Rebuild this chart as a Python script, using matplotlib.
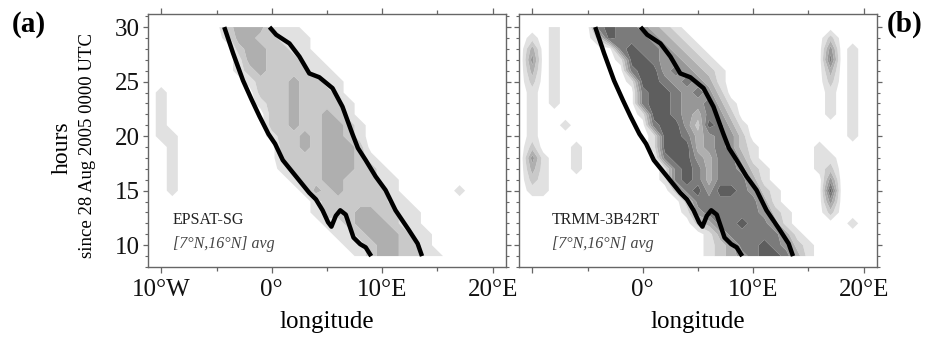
import numpy as np
import matplotlib
matplotlib.use("Agg")
import matplotlib.pyplot as plt
from matplotlib.ticker import FixedLocator, MultipleLocator

plt.rcParams['font.family'] = ['Liberation Serif', 'DejaVu Serif']

# ---------------- data ----------------
LON = np.arange(-11, 22)      # grid longitudes (deg E)
HOURS = np.arange(9, 31)      # hours since 28 Aug 2005 0000 UTC

# shading level per grid cell: hour -> (first longitude, level digits)
EPSAT_BAND = {
    30: (-4, "2333111"),
    29: (-4, "13322111"),
    28: (-3, "2332211"),
    27: (-3, "13322211"),
    26: (-3, "123222211"),
    25: (-2, "122232211"),
    24: (-1, "22232221"),
    23: (-1, "122322221"),
    22: (0, "22322321"),
    21: (0, "223223321"),
    20: (0, "122323321"),
    19: (1, "22323332"),
    18: (1, "222233321"),
    17: (1, "1222333221"),
    16: (2, "1223322211"),
    15: (3, "132322221"),
    14: (4, "122222211"),
    13: (4, "1222332211"),
    12: (5, "112333211"),
    11: (6, "112333211"),
    10: (7, "11233221"),
    9: (8, "12332211"),
}
EPSAT_SPOTS = [(-10, 20, 1), (-10, 21, 1), (-10, 22, 1), (-10, 23, 1), (-10, 24, 1),
               (-9, 15, 1), (-9, 16, 1), (-9, 17, 1), (-9, 18, 1), (-9, 19, 1),
               (-9, 20, 1), (17, 15, 1)]

TRMM_BAND = {
    30: (-4, "56554321"),
    29: (-4, "265554321"),
    28: (-2, "56554321"),
    27: (-2, "166544321"),
    26: (-1, "566454321"),
    25: (-1, "166545431"),
    24: (0, "56654542"),
    23: (0, "566544531"),
    22: (0, "166543542"),
    21: (1, "566426531"),
    20: (1, "166534542"),
    19: (1, "1666345421"),
    18: (2, "566435531"),
    17: (2, "1565355421"),
    16: (2, "1565355531"),
    15: (3, "2564665421"),
    14: (4, "255555531"),
    13: (4, "1455555421"),
    12: (5, "235565531"),
    11: (6, "135555531"),
    10: (6, "1235565421"),
    9: (6, "1234566531"),
}
TRMM_SPOTS = [(-10, 15, 1), (-10, 16, 2), (-10, 17, 3), (-10, 18, 4), (-10, 19, 2),
              (-10, 20, 1), (-10, 21, 1), (-10, 22, 1), (-10, 23, 1), (-10, 24, 1),
              (-10, 25, 2), (-10, 26, 3), (-10, 27, 4), (-10, 28, 3), (-10, 29, 1),
              (-9, 15, 1), (-9, 16, 1), (-9, 17, 1), (-9, 18, 1),
              (-8, 23, 1), (-8, 24, 1), (-8, 25, 1), (-8, 26, 1), (-8, 27, 1),
              (-8, 28, 1), (-8, 29, 1), (-8, 30, 1),
              (-7, 21, 1), (-6, 17, 1), (-6, 18, 1), (-6, 19, 1),
              (17, 22, 1), (17, 23, 1), (17, 24, 1), (17, 25, 2), (17, 26, 3),
              (17, 27, 5), (17, 28, 4), (17, 29, 2),
              (19, 20, 1), (19, 21, 1), (19, 22, 1), (19, 23, 1), (19, 24, 1),
              (19, 25, 1), (19, 26, 1), (19, 27, 1), (19, 28, 1),
              (17, 13, 2), (17, 14, 4), (17, 15, 6), (17, 16, 4), (17, 17, 2),
              (17, 18, 1), (16, 17, 1), (16, 18, 1), (16, 19, 1), (19, 12, 1)]

# thick black outline (same in both panels)
LEFT_LINE_LON = [-4.3, -3.5, -2.6, -1.8, -1.1, -0.3, 0.3, 1.0, 2.2, 3.4, 4.0, 4.6,
                 5.1, 5.4, 5.8, 6.2, 6.7, 7.1, 7.4, 8.0, 8.5, 9.0]
LEFT_LINE_HR = [30.0, 27.6, 25.1, 23.3, 21.8, 20.2, 19.3, 17.8, 16.3, 14.8, 14.2, 13.2,
                12.1, 11.7, 12.7, 13.2, 12.8, 11.6, 10.7, 10.1, 9.8, 9.0]
RIGHT_LINE_LON = [-0.2, 0.4, 1.6, 2.5, 3.4, 4.3, 5.5, 6.4, 7.3, 7.8, 8.5, 9.4, 10.3,
                  11.2, 12.4, 13.2, 13.6]
RIGHT_LINE_HR = [30.0, 29.3, 28.5, 27.3, 25.75, 25.4, 24.4, 22.7, 20.2, 18.9, 17.8,
                 16.3, 15.05, 13.2, 11.4, 10.15, 9.0]

X_TICKS = [-10, 0, 10, 20]
X_LABELS_A = ['10°W', '0°', '10°E', '20°E']
X_LABELS_B = ['', '0°', '10°E', '20°E']
Y_TICKS = [10, 15, 20, 25, 30]
Y_LABELS = ['10', '15', '20', '25', '30']

SHADES = ['#e1e1e1', '#c9c9c9', '#afafaf', '#979797', '#7b7b7b', '#5e5e5e']
LEVELS = [0.5, 1.5, 2.5, 3.5, 4.5, 5.5, 6.5]


def build(band, spots):
    Z = np.zeros((len(HOURS), len(LON)))
    for h, (start, digits) in band.items():
        r = h - HOURS[0]
        for k, ch in enumerate(digits):
            Z[r, start + k - LON[0]] = int(ch)
    for lon, h, v in spots:
        Z[h - HOURS[0], lon - LON[0]] = v
    return Z


fig = plt.figure(figsize=(9.29, 3.40), dpi=100)
W, H = 929.0, 340.0
ax_a = fig.add_axes([148 / W, 1 - 267 / H, 358 / W, 253 / H])
ax_b = fig.add_axes([519 / W, 1 - 267 / H, 358 / W, 253 / H])

spine_col = '#666666'
for ax, band, spots, name, xl, tx in [
        (ax_a, EPSAT_BAND, EPSAT_SPOTS, 'EPSAT-SG', X_LABELS_A, 0.07),
        (ax_b, TRMM_BAND, TRMM_SPOTS, 'TRMM-3B42RT', X_LABELS_B, 0.092)]:
    Z = build(band, spots)
    ax.contourf(LON, HOURS, Z, levels=LEVELS, colors=SHADES, antialiased=True)
    ax.plot(LEFT_LINE_LON, LEFT_LINE_HR, color='black', lw=3.2,
            solid_joinstyle='round', solid_capstyle='butt')
    ax.plot(RIGHT_LINE_LON, RIGHT_LINE_HR, color='black', lw=3.2,
            solid_joinstyle='round', solid_capstyle='butt')
    ax.set_xlim(-11.2, 21.2)
    ax.set_ylim(8.0, 31.2)
    ax.xaxis.set_major_locator(FixedLocator(X_TICKS))
    ax.set_xticklabels(xl)
    ax.xaxis.set_minor_locator(FixedLocator([-5, 5, 15]))
    ax.yaxis.set_major_locator(FixedLocator(Y_TICKS))
    ax.yaxis.set_minor_locator(MultipleLocator(1))
    ax.tick_params(axis='both', which='both', direction='out', colors=spine_col,
                   labelcolor='#111111', top=True, right=True, labelsize=18)
    ax.tick_params(axis='x', which='major', length=4.5, width=0.9, pad=4)
    ax.tick_params(axis='x', which='minor', length=3, width=0.9)
    ax.tick_params(axis='y', which='major', length=3.6, width=0.9, pad=2.5)
    ax.tick_params(axis='y', which='minor', length=2, width=0.8)
    for s in ax.spines.values():
        s.set_color(spine_col)
        s.set_linewidth(1.0)
    ax.text(tx, 0.186, name, transform=ax.transAxes,
            fontsize=11.5, color='#222222', va='center', ha='left')
    ax.text(tx, 0.091, '[7°N,16°N] avg', transform=ax.transAxes,
            fontsize=11.5, color='#444444', style='italic', va='center', ha='left')

ax_a.set_yticklabels(Y_LABELS)
ax_b.set_yticklabels([])

fig.text((148 + 506) / 2 / W, 1 - 322 / H, 'longitude', ha='center', va='center', fontsize=18)
fig.text((519 + 877) / 2 / W, 1 - 322 / H, 'longitude', ha='center', va='center', fontsize=18)
fig.text(62 / W, 1 - 148 / H, 'hours', rotation=90, ha='center', va='center', fontsize=17)
fig.text(87 / W, 1 - 146 / H, 'since 28 Aug 2005 0000 UTC', rotation=90, ha='center',
         va='center', fontsize=13.5)
fig.text(29 / W, 1 - 25 / H, '(a)', ha='center', va='center', fontsize=21, fontweight='bold')
fig.text(905 / W, 1 - 24 / H, '(b)', ha='center', va='center', fontsize=21, fontweight='bold')

fig.savefig('out.png', dpi=100)
